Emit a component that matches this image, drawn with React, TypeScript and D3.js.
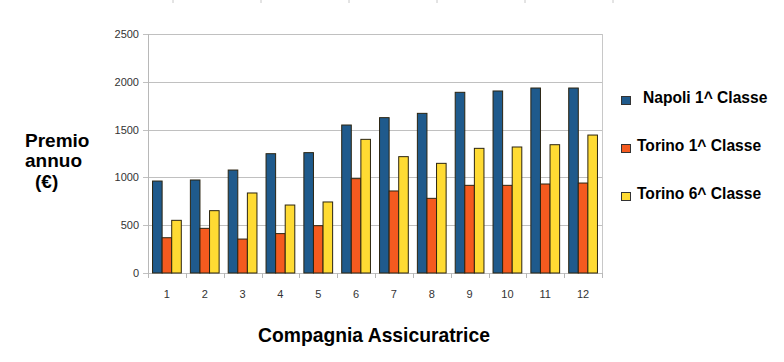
import React from 'react';
import * as d3 from 'd3';

const categories = ['1', '2', '3', '4', '5', '6', '7', '8', '9', '10', '11', '12'];
const seriesNames = ['Napoli 1^ Classe', 'Torino 1^ Classe', 'Torino 6^ Classe'];
const napoli1 = [962, 973, 1077, 1248, 1259, 1548, 1625, 1670, 1890, 1904, 1935, 1935];
const torino1 = [369, 467, 355, 412, 495, 987, 858, 781, 917, 917, 931, 941];
const torino6 = [551, 652, 837, 711, 743, 1398, 1217, 1147, 1304, 1318, 1342, 1443];
const yTicks = [0, 500, 1000, 1500, 2000, 2500];
const colors = ['#1f5a8c', '#f45a1f', '#ffdb33'];

const W = 784;
const H = 362;
const margin = { left: 148, right: 182, top: 34, bottom: 89 };
const font = '"Liberation Sans", Arial, sans-serif';

const App: React.FC = () => {
  const series = [napoli1, torino1, torino6];
  const plotW = W - margin.left - margin.right;
  const plotH = H - margin.top - margin.bottom;

  const x = d3
    .scaleBand()
    .domain(categories)
    .range([margin.left, margin.left + plotW])
    .paddingInner(0.24)
    .paddingOuter(0.12);

  const xs = d3
    .scaleBand()
    .domain(seriesNames)
    .range([0, x.bandwidth()]);

  const y = d3
    .scaleLinear()
    .domain([0, 2500])
    .range([margin.top + plotH, margin.top]);

  const step = x.step();
  const boundaries = d3.range(categories.length + 1).map((i) => margin.left + i * step);

  return (
    <svg
      width={W}
      height={H}
      style={{ position: 'absolute', left: 0, top: 0, background: '#fff' }}
      fontFamily={font}
    >
      <rect width={W} height={H} fill="#fff" />

      {/* faint marks along the top edge */}
      {d3.range(6).map((i) => (
        <line key={i} x1={173 + i * 88} x2={173 + i * 88} y1={0} y2={3} stroke="#c8c8c8" />
      ))}

      {/* grid */}
      {yTicks.map((t) => (
        <g key={t}>
          <line
            x1={margin.left - 5}
            x2={margin.left + plotW}
            y1={Math.round(y(t)) + 0.5}
            y2={Math.round(y(t)) + 0.5}
            stroke="#c0c0c0"
          />
          <text
            x={margin.left - 9}
            y={y(t) + 4}
            textAnchor="end"
            fontSize={11}
            fill="#333"
          >
            {t}
          </text>
        </g>
      ))}

      {/* plot frame */}
      <line
        x1={margin.left + 0.5}
        x2={margin.left + 0.5}
        y1={margin.top}
        y2={margin.top + plotH}
        stroke="#b8b8b8"
      />
      <line
        x1={margin.left + plotW + 0.5}
        x2={margin.left + plotW + 0.5}
        y1={margin.top}
        y2={margin.top + plotH}
        stroke="#c8c8c8"
      />

      {/* x ticks */}
      {boundaries.map((bx, i) => (
        <line
          key={i}
          x1={Math.round(bx) + 0.5}
          x2={Math.round(bx) + 0.5}
          y1={margin.top + plotH}
          y2={margin.top + plotH + 5}
          stroke="#b8b8b8"
        />
      ))}
      {categories.map((c) => (
        <text
          key={c}
          x={(x(c) as number) + x.bandwidth() / 2}
          y={margin.top + plotH + 25}
          textAnchor="middle"
          fontSize={11}
          fill="#333"
        >
          {c}
        </text>
      ))}

      {/* bars */}
      {series.map((vals, si) =>
        vals.map((v, i) => (
          <rect
            key={`${si}-${i}`}
            x={(x(categories[i]) as number) + (xs(seriesNames[si]) as number)}
            y={y(v)}
            width={xs.bandwidth()}
            height={y(0) - y(v)}
            fill={colors[si]}
            stroke="#2b2410"
            strokeWidth={1}
          />
        ))
      )}

      {/* legend */}
      {seriesNames.map((name, i) => (
        <g key={name} transform={`translate(621, ${96 + i * 48})`}>
          <rect x={0.5} y={0.5} width={9} height={8} fill={colors[i]} stroke="#333" />
          <text
            x={i === 0 ? 22 : 16}
            y={6.5}
            fontSize={15.6}
            fontWeight="bold"
            fill="#000"
          >
            {name}
          </text>
        </g>
      ))}

      {/* y axis title */}
      <text fontSize={19} fontWeight="bold" fill="#000">
        <tspan x={25} y={147}>Premio</tspan>
        <tspan x={25} y={167}>annuo</tspan>
        <tspan x={35} y={188}>(€)</tspan>
      </text>

      {/* x axis title */}
      <text x={374} y={342} textAnchor="middle" fontSize={19.3} fontWeight="bold" fill="#000">
        Compagnia Assicuratrice
      </text>
    </svg>
  );
};

export default App;
